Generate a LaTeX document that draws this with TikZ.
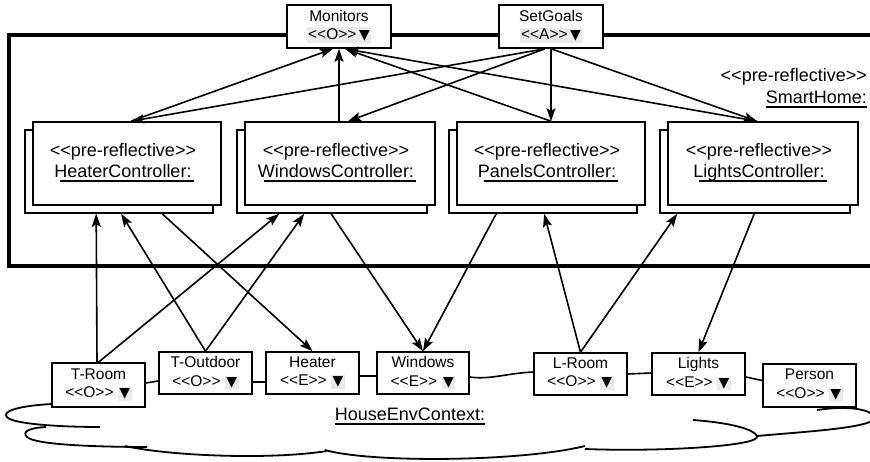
\documentclass[tikz,border=0pt]{standalone}
\usepackage{fontspec}
\setmainfont{Liberation Sans}[Ligatures=TeXOff]
\newfontfamily\symfont{DejaVu Sans}
\usetikzlibrary{arrows.meta,calc}

\definecolor{tagbg}{HTML}{EBEBEB}
\setlength{\fboxsep}{1.5pt}
% stereotype brackets, kept apart so no guillemet ligature forms
\newcommand\stereo[1]{<\kern0pt<#1>\kern0pt>}
\newcommand\tri{{\symfont\fontsize{14}{14}\selectfont ▼}}
\newcommand\graytri{\colorbox{tagbg}{\tri}}
% plain underline and a slightly shifted one
\newcommand\undl[1]{\setbox0=\hbox{#1}\rlap{\rule[-4.5pt]{\wd0}{1.8pt}}\box0}
\newcommand\undls[1]{\setbox0=\hbox{#1}\rlap{\hspace{6pt}\rule[-4.5pt]{\dimexpr\wd0-4pt\relax}{1.8pt}}\box0}

\tikzset{
  x=1pt, y=-1pt,
  bigfont/.style={font=\fontsize{18}{21}\selectfont},
  smallfont/.style={font=\fontsize{15.5}{18.5}\selectfont},
  objbox/.style={draw, line width=1.6pt, fill=white, inner sep=0pt,
    minimum width=93pt, minimum height=42pt, align=center, smallfont},
  topbox/.style={objbox, minimum width=104pt, minimum height=43pt},
  ctlbox/.style={draw, line width=1.6pt, fill=white, inner sep=0pt,
    minimum width=188pt, minimum height=83pt},
  ctltext/.style={align=center, inner sep=0pt, bigfont},
  conn/.style={line width=1.6pt, -{Stealth[length=13pt,width=9pt,inset=2.5pt]}},
  link/.style={line width=1.6pt},
  cloudline/.style={line width=1.8pt},
  frame/.style={line width=3.6pt},
}

\begin{document}
\begin{tikzpicture}
\useasboundingbox (0,0) rectangle (870,462);

% SmartHome frame, open to the right
\draw[frame] (872,35) -- (9,35) -- (9,266) -- (872,266);

\node[bigfont, anchor=east, inner sep=0pt] (shst) at (867,77) {\stereo{pre-reflective}};
\node[bigfont, anchor=east, inner sep=0pt] (shname) at (867,99) {\undl{SmartHome:}};

% top-level interfaces
\node[topbox] (mon) at (339,26.5) {Monitors\\\colorbox{tagbg}{\stereo{O}\,\tri}};
\node[topbox] (sg)  at (551,26.5) {SetGoals\\\colorbox{tagbg}{\stereo{A}\,\tri}};

% controllers (stacked multi-object boxes)
\node[ctlbox] (hcB) at (119,171.5) {};
\node[ctlbox] (hcF) at (127,163.5) {};
\node[ctlbox, minimum width=190pt] (wcB) at (332,171.5) {};
\node[ctlbox, minimum width=190pt] (wcF) at (340,163.5) {};
\node[ctlbox] (pcB) at (543,171.5) {};
\node[ctlbox] (pcF) at (551,163.5) {};
\node[ctlbox, minimum width=190pt] (lcB) at (755,171.5) {};
\node[ctlbox, minimum width=190pt] (lcF) at (763,163.5) {};

\node[ctltext] (hcT) at (123,162.5) {\stereo{pre-reflective}\\\undls{HeaterController:}};
\node[ctltext] (wcT) at (336,162.5) {\stereo{pre-reflective}\\\undls{WindowsController:}};
\node[ctltext] (pcT) at (547,162.5) {\stereo{pre-reflective}\\\undls{PanelsController:}};
\node[ctltext] (lcT) at (759,162.5) {\stereo{pre-reflective}\\\undls{LightsController:}};

% environment cloud
\draw[cloudline] (52,404) .. controls (15,406) and (2,412) .. (7,417) .. controls (12,424) and (60,427) .. (100,427);
\draw[cloudline] (46,427) .. controls (28,428) and (22,432) .. (27,437) .. controls (35,445) and (100,447) .. (147,447);
\draw[cloudline] (125,446) .. controls (170,456) and (270,460) .. (327,451);
\draw[cloudline] (325,450) .. controls (370,463) and (520,462) .. (585,446);
\draw[cloudline] (585,449) .. controls (660,452) and (762,446) .. (757,436) .. controls (752,427) and (720,422) .. (693,420);
\draw[cloudline] (757,436) .. controls (800,432) and (874,428) .. (874,418) .. controls (874,410) and (850,405) .. (817,410);

% environment objects
\node[objbox, minimum height=44pt] (troom) at (98.5,385) {T-Room\\\stereo{O} \graytri};
\node[objbox] (tout)    at (205.5,373) {T-Outdoor\\\stereo{O} \graytri};
\node[objbox] (heater)  at (312.5,373) {Heater\\\stereo{E} \graytri};
\node[objbox, minimum width=92pt] (windows) at (423,373) {Windows\\\stereo{E} \graytri};
\node[objbox] (lroom)   at (580.5,374) {L-Room\\\stereo{O} \graytri};
\node[objbox] (lights)  at (698.5,374) {Lights\\\stereo{E} \graytri};
\node[objbox, minimum height=43pt] (person) at (809.5,385.5) {Person\\\stereo{O} \graytri};

\node[bigfont, inner sep=0pt] (hec) at (410,416) {\undl{HouseEnvContext:}};

% links along the cloud edge
\draw[link] ([yshift=2pt]troom.east) -- ([yshift=-8pt]tout.west);
\draw[link] ([yshift=-9pt]tout.east) -- ([yshift=-9pt]heater.west);
\draw[link] ([yshift=-3pt]heater.east) -- ([yshift=-3pt]windows.west);
\draw[link] ([yshift=-4pt]windows.east) .. controls +(20,3) and +(-25,1) .. ([yshift=2pt]lroom.west);
\draw[link] ([yshift=0pt]lroom.east) -- ([yshift=1pt]lights.west);
\draw[link] ([yshift=-3pt]lights.east) -- ([yshift=5pt]person.west);

% controllers <-> top interfaces
\draw[conn] ([xshift=4pt]hcF.north) -- ([xshift=-6pt]mon.south);
\draw[conn] ([xshift=-6pt]sg.south) -- ([xshift=4pt]hcF.north);
\draw[conn] (mon.south |- wcF.north) -- (mon.south);
\draw[conn] ([xshift=-6pt]sg.south) -- ([xshift=8pt]wcF.north);
\draw[conn] (pcF.north) -- ([xshift=6pt]mon.south);
\draw[conn] (sg.south) -- (sg.south |- pcF.north);
\draw[conn] ([xshift=-6pt]lcF.north) -- ([xshift=6pt]mon.south);
\draw[conn] (sg.south) -- ([xshift=-6pt]lcF.north);

% environment <-> controllers
\draw[conn] ([xshift=-1.5pt]troom.north) -- ([xshift=72pt]hcB.south west);
\draw[conn] (tout.north) -- ([xshift=97pt]hcB.south west);
\draw[conn] (tout.north) -- ([xshift=68pt]wcB.south west);
\draw[conn] (troom.north) -- ([xshift=43pt]wcB.south west);
\draw[conn] ([xshift=138pt]hcB.south west) -- (heater.north);
\draw[conn] ([xshift=95pt]wcB.south west) -- (windows.north);
\draw[conn] ([xshift=48pt]pcB.south west) -- (windows.north);
\draw[conn] (lroom.north) -- ([xshift=96pt]pcB.south west);
\draw[conn] (lroom.north) -- ([xshift=18pt]lcB.south west);
\draw[conn] ([xshift=95pt]lcB.south west) -- (lights.north);
\end{tikzpicture}
\end{document}
